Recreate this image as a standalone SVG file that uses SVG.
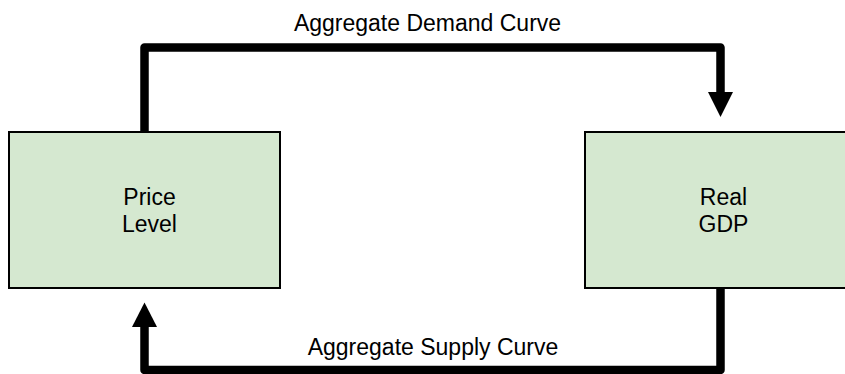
<svg xmlns="http://www.w3.org/2000/svg" width="845" height="374" viewBox="0 0 845 374">
<style>
.box{fill:#d5e8d0;stroke:#000;stroke-width:2}
.lbl{font-family:"Liberation Sans",Arial,sans-serif;font-size:23px;fill:#000;text-anchor:middle}
.con{fill:none;stroke:#000;stroke-width:8.5;stroke-linejoin:round}
.head{fill:#000}
</style>
<rect width="845" height="374" fill="#fff"/>
<g id="connectors">
<path class="con" d="M144.5,131 V47.5 H720.5 V93"/>
<polygon class="head" points="708,92 733,92 720.5,117"/>
<text class="lbl" x="427.5" y="31">Aggregate Demand Curve</text>
<path class="con" d="M720.5,289 V370 H144.5 V326"/>
<polygon class="head" points="132,327 157,327 144.5,302.5"/>
<text class="lbl" x="433" y="355">Aggregate Supply Curve</text>
</g>
<g id="price-level">
<rect class="box" x="9" y="132" width="271" height="156"/>
<text class="lbl" x="149.5" y="205">Price</text>
<text class="lbl" x="149.5" y="231.5">Level</text>
</g>
<g id="real-gdp">
<rect class="box" x="585" y="132" width="271" height="156"/>
<text class="lbl" x="723.5" y="205">Real</text>
<text class="lbl" x="723.5" y="231.5">GDP</text>
</g>
</svg>
